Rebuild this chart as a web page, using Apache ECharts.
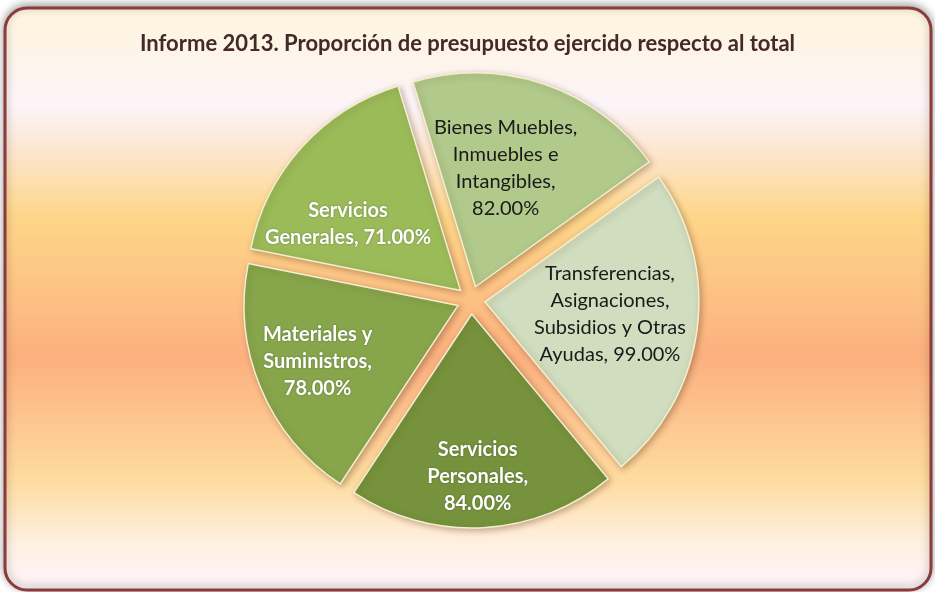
<!DOCTYPE html>
<html>
<head>
<meta charset="utf-8">
<script src="https://cdn.jsdelivr.net/npm/echarts@6/dist/echarts.min.js"></script>
<style>
html,body{margin:0;padding:0;background:#ffffff;}
#chart{width:935px;height:592px;}
</style>
</head>
<body>
<div id="chart"></div>
<script>
// ---- data ----
const titleText = 'Informe 2013. Proporción de presupuesto ejercido respecto al total';
const categories = [
  'Bienes Muebles,\nInmuebles e\nIntangibles',
  'Transferencias,\nAsignaciones,\nSubsidios y Otras\nAyudas',
  'Servicios\nPersonales',
  'Materiales y\nSuministros',
  'Servicios\nGenerales'
];
const values = [82, 99, 84, 78, 71];
const valueOnNewLine = [true, false, true, true, false];

// ---- styles ----
const sliceColors = ['#b1c98b', '#d0ddbe', '#76923c', '#87a64b', '#9bbb59'];
const labelColors = ['#1a1a1a', '#1a1a1a', '#ffffff', '#ffffff', '#ffffff'];
const labelWeights = ['normal', 'normal', 'bold', 'bold', 'bold'];
const labelShift = [[-5, -14], [16, -2], [0, 53], [-39, 14], [-31, 7]];

const chart = echarts.init(document.getElementById('chart'), null, {renderer: 'canvas'});

const data = categories.map((c, i) => ({
  name: c,
  value: values[i],
  selected: true,
  itemStyle: {color: sliceColors[i]},
  label: {
    color: labelColors[i],
    fontWeight: labelWeights[i],
    textShadowColor: labelColors[i] === '#ffffff' ? 'rgba(0,0,0,0.35)' : 'transparent',
    textShadowBlur: labelColors[i] === '#ffffff' ? 2 : 0
  }
}));

chart.setOption({
  animation: false,
  backgroundColor: '#ffffff',
  graphic: [{
    type: 'rect',
    z: -10,
    silent: true,
    shape: {x: 5, y: 8, width: 926, height: 582, r: 22},
    style: {
      fill: new echarts.graphic.LinearGradient(0, 0, 0, 1, [
        {offset: 0.0, color: '#fff5dc'},
        {offset: 0.17, color: '#fcf4f8'},
        {offset: 0.245, color: '#fde6d0'},
        {offset: 0.36, color: '#fed688'},
        {offset: 0.5, color: '#fdc084'},
        {offset: 0.6, color: '#fcb07e'},
        {offset: 0.7, color: '#fdc48e'},
        {offset: 0.81, color: '#fedc9f'},
        {offset: 0.92, color: '#fff0e2'},
        {offset: 1.0, color: '#fdf5fb'}
      ]),
      stroke: '#8b3b3b',
      lineWidth: 3,
      shadowColor: 'rgba(0,0,0,0.35)',
      shadowBlur: 8,
      shadowOffsetY: -2
    }
  }],
  title: {
    text: titleText,
    left: 'center',
    top: 28,
    textStyle: {
      fontFamily: 'Lato',
      fontSize: 22,
      fontWeight: 'bold',
      color: '#43292a'
    }
  },
  series: [{
    type: 'pie',
    center: [471, 300],
    radius: [0, 214],
    startAngle: 107,
    clockwise: true,
    selectedMode: 'multiple',
    selectedOffset: 14,
    avoidLabelOverlap: false,
    emphasis: {disabled: true},
    itemStyle: {
      borderColor: '#f3f0cf',
      borderWidth: 1.5,
      shadowColor: 'rgba(90,50,20,0.35)',
      shadowBlur: 6,
      shadowOffsetX: 2,
      shadowOffsetY: 2
    },
    label: {
      show: true,
      position: 'inside',
      fontFamily: 'Lato',
      fontSize: 20,
      lineHeight: 27,
      align: 'center',
      formatter: p => p.name + ',' + (valueOnNewLine[p.dataIndex] ? '\n' : ' ') + p.value.toFixed(2) + '%'
    },
    labelLayout: p => ({dx: labelShift[p.dataIndex][0], dy: labelShift[p.dataIndex][1]}),
    labelLine: {show: false},
    data: data
  }]
});
</script>
</body>
</html>
